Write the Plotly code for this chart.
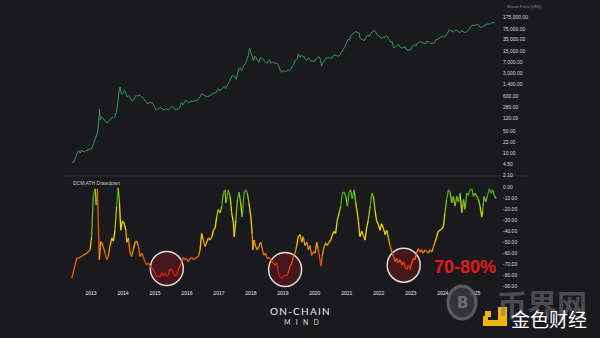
import numpy as np
import plotly.graph_objects as go

BG = "#1a1a1e"

# ---- Bitcoin price (USD), decimal year ----
price_years = [
    2012.40, 2012.46, 2012.50, 2012.54, 2012.58, 2012.62, 2012.66, 2012.70, 2012.75, 2012.79,
    2012.83, 2012.87, 2012.92, 2012.96, 2013.00, 2013.04, 2013.08, 2013.13, 2013.17, 2013.21,
    2013.24, 2013.27, 2013.29, 2013.33, 2013.38, 2013.42, 2013.46, 2013.50, 2013.54, 2013.58,
    2013.62, 2013.67, 2013.71, 2013.75, 2013.79, 2013.83, 2013.87, 2013.91, 2013.94, 2013.98,
    2014.04, 2014.08, 2014.13, 2014.17, 2014.21, 2014.25, 2014.29, 2014.33, 2014.38, 2014.42,
    2014.46, 2014.50, 2014.54, 2014.58, 2014.63, 2014.67, 2014.71, 2014.75, 2014.79, 2014.83,
    2014.88, 2014.92, 2014.96, 2015.00, 2015.04, 2015.08, 2015.13, 2015.17, 2015.21, 2015.25,
    2015.29, 2015.33, 2015.38, 2015.42, 2015.46, 2015.50, 2015.54, 2015.58, 2015.63, 2015.67,
    2015.71, 2015.75, 2015.79, 2015.83, 2015.87, 2015.92, 2015.96, 2016.00, 2016.04, 2016.08,
    2016.13, 2016.17, 2016.21, 2016.25, 2016.33, 2016.38, 2016.42, 2016.46, 2016.50, 2016.54,
    2016.58, 2016.63, 2016.67, 2016.71, 2016.75, 2016.79, 2016.83, 2016.88, 2016.92, 2016.96,
    2017.00, 2017.04, 2017.08, 2017.13, 2017.17, 2017.21, 2017.25, 2017.29, 2017.33, 2017.38,
    2017.42, 2017.46, 2017.50, 2017.54, 2017.58, 2017.62, 2017.67, 2017.71, 2017.75, 2017.79,
    2017.83, 2017.88, 2017.92, 2017.96, 2018.00, 2018.04, 2018.08, 2018.13, 2018.17, 2018.21,
    2018.25, 2018.29, 2018.33, 2018.38, 2018.42, 2018.46, 2018.50, 2018.54, 2018.58, 2018.63,
    2018.67, 2018.71, 2018.75, 2018.79, 2018.83, 2018.88, 2018.92, 2018.96, 2019.00, 2019.04,
    2019.08, 2019.13, 2019.17, 2019.21, 2019.25, 2019.29, 2019.33, 2019.38, 2019.42, 2019.46,
    2019.48, 2019.50, 2019.54, 2019.58, 2019.63, 2019.67, 2019.71, 2019.75, 2019.79, 2019.83,
    2019.88, 2019.92, 2019.96, 2020.00, 2020.04, 2020.08, 2020.13, 2020.17, 2020.21, 2020.25,
    2020.29, 2020.33, 2020.38, 2020.42, 2020.46, 2020.50, 2020.54, 2020.58, 2020.63, 2020.67,
    2020.71, 2020.75, 2020.79, 2020.83, 2020.88, 2020.92, 2020.96, 2021.00, 2021.04, 2021.08,
    2021.13, 2021.17, 2021.21, 2021.25, 2021.29, 2021.33, 2021.38, 2021.42, 2021.46, 2021.50,
    2021.54, 2021.58, 2021.63, 2021.67, 2021.71, 2021.75, 2021.79, 2021.83, 2021.87, 2021.92,
    2021.96, 2022.00, 2022.04, 2022.08, 2022.13, 2022.17, 2022.21, 2022.25, 2022.29, 2022.33,
    2022.38, 2022.42, 2022.46, 2022.50, 2022.54, 2022.58, 2022.63, 2022.67, 2022.71, 2022.75,
    2022.79, 2022.83, 2022.87, 2022.92, 2022.96, 2023.00, 2023.04, 2023.08, 2023.13, 2023.17,
    2023.21, 2023.25, 2023.29, 2023.33, 2023.38, 2023.42, 2023.46, 2023.50, 2023.54, 2023.58,
    2023.63, 2023.67, 2023.71, 2023.75, 2023.79, 2023.83, 2023.88, 2023.92, 2023.96, 2024.00,
    2024.04, 2024.08, 2024.13, 2024.17, 2024.21, 2024.25, 2024.29, 2024.33, 2024.38, 2024.42,
    2024.46, 2024.50, 2024.54, 2024.58, 2024.63, 2024.67, 2024.71, 2024.75, 2024.79, 2024.83,
    2024.88, 2024.92, 2024.96, 2025.00, 2025.04, 2025.08, 2025.13, 2025.17, 2025.21, 2025.25,
    2025.29, 2025.33, 2025.38, 2025.42, 2025.46, 2025.50, 2025.54, 2025.58, 2025.63,
]
price_usd = [
    5.1, 5.3, 6.6, 8.9, 10.9, 12.0, 10.2, 12.3, 11.8, 11.0,
    11.7, 12.4, 13.4, 13.5, 13.5, 15.5, 20, 27, 33, 47,
    93, 230, 110, 135, 120, 110, 100, 88, 95, 105,
    118, 135, 127, 140, 190, 320, 750, 1150, 750, 680,
    900, 800, 560, 620, 560, 460, 440, 450, 580, 640,
    600, 640, 620, 580, 500, 480, 410, 380, 340, 390,
    370, 380, 320, 290, 220, 230, 260, 270, 250, 240,
    225, 240, 230, 225, 245, 265, 290, 270, 225, 230,
    240, 245, 290, 380, 320, 400, 440, 430, 380, 390,
    420, 410, 420, 430, 450, 530, 580, 720, 650, 660,
    590, 575, 600, 610, 640, 710, 740, 750, 790, 960,
    1000, 870, 1000, 1080, 1250, 1040, 1200, 1350, 1700, 2200,
    2700, 2500, 2450, 2000, 2800, 4200, 4600, 3700, 4400, 5700,
    6100, 8000, 11000, 19000, 14000, 11500, 7500, 10500, 9000, 8000,
    6900, 9200, 9500, 8300, 7400, 6500, 6300, 7300, 8200, 6300,
    7000, 6500, 6600, 6400, 6300, 4300, 3800, 3300, 3800, 3600,
    3500, 3700, 3900, 4000, 4100, 5200, 5600, 7800, 8200, 9000,
    12500, 11000, 9800, 11500, 10300, 10200, 8300, 8000, 9300, 9000,
    7200, 7500, 7200, 7300, 8700, 9400, 10300, 8700, 5100, 6600,
    7100, 8800, 9500, 9700, 9200, 9100, 9200, 11100, 11700, 11500,
    10500, 10700, 11500, 13500, 16000, 19000, 23000, 29000, 36000, 33000,
    47000, 50000, 55000, 59000, 63000, 55000, 57000, 37000, 36000, 34000,
    32000, 40000, 46000, 48000, 43000, 55000, 61000, 64000, 66000, 57000,
    47000, 46000, 41000, 37000, 42000, 39000, 44000, 46000, 39000, 35000,
    29000, 30000, 20000, 20000, 21000, 23500, 24000, 20000, 19000, 19500,
    20000, 20500, 16500, 16800, 16500, 16600, 21000, 23000, 24000, 22000,
    27000, 28000, 30000, 29000, 27000, 26500, 25500, 30500, 30000, 29300,
    26000, 26000, 27000, 28000, 34500, 35000, 37500, 42000, 43000, 45000,
    41000, 43000, 52000, 62000, 70000, 67000, 63000, 60000, 67000, 69000,
    65000, 60000, 57000, 66000, 60000, 59000, 57000, 63000, 67000, 72000,
    90000, 97000, 101000, 94000, 102000, 104000, 97000, 84000, 84000, 85000,
    94000, 97000, 105000, 108000, 104000, 107000, 118000, 117000, 115000,
]

# ---- DCM ATH drawdown (%), decimal year ----
dd_years = [
    2012.40, 2012.55, 2012.66, 2012.75, 2012.87, 2012.97, 2013.02, 2013.07, 2013.13, 2013.16,
    2013.20, 2013.26, 2013.30, 2013.33, 2013.38, 2013.44, 2013.49, 2013.54, 2013.59, 2013.65,
    2013.70, 2013.75, 2013.80, 2013.85, 2013.89, 2013.93, 2013.98, 2014.03, 2014.09, 2014.12,
    2014.17, 2014.22, 2014.27, 2014.32, 2014.38, 2014.43, 2014.48, 2014.53, 2014.59, 2014.64,
    2014.69, 2014.74, 2014.79, 2014.85, 2014.90, 2014.95, 2015.00, 2015.06, 2015.11, 2015.16,
    2015.21, 2015.26, 2015.31, 2015.37, 2015.42, 2015.47, 2015.52, 2015.57, 2015.63, 2015.68,
    2015.73, 2015.78, 2015.84, 2015.89, 2015.94, 2015.99, 2016.04, 2016.10, 2016.15, 2016.20,
    2016.25, 2016.31, 2016.36, 2016.41, 2016.46, 2016.51, 2016.57, 2016.62, 2016.67, 2016.72,
    2016.78, 2016.83, 2016.88, 2016.93, 2016.98, 2017.04, 2017.09, 2017.14, 2017.19, 2017.22,
    2017.26, 2017.29, 2017.35, 2017.40, 2017.45, 2017.48, 2017.53, 2017.58, 2017.63, 2017.68,
    2017.73, 2017.79, 2017.84, 2017.89, 2017.94, 2018.00, 2018.04, 2018.06, 2018.10, 2018.15,
    2018.20, 2018.26, 2018.31, 2018.36, 2018.41, 2018.46, 2018.51, 2018.57, 2018.62, 2018.67,
    2018.76, 2018.81, 2018.86, 2018.91, 2018.97, 2019.02, 2019.07, 2019.12, 2019.17, 2019.22,
    2019.28, 2019.33, 2019.38, 2019.43, 2019.48, 2019.54, 2019.59, 2019.64, 2019.69, 2019.75,
    2019.80, 2019.85, 2019.90, 2019.95, 2020.01, 2020.06, 2020.11, 2020.16, 2020.19, 2020.23,
    2020.29, 2020.34, 2020.39, 2020.44, 2020.50, 2020.55, 2020.60, 2020.65, 2020.70, 2020.76,
    2020.81, 2020.86, 2020.91, 2020.97, 2021.02, 2021.07, 2021.12, 2021.17, 2021.23, 2021.28,
    2021.33, 2021.36, 2021.41, 2021.47, 2021.57, 2021.62, 2021.67, 2021.73, 2021.78, 2021.83,
    2021.88, 2021.93, 2021.99, 2022.04, 2022.09, 2022.14, 2022.20, 2022.25, 2022.30, 2022.35,
    2022.41, 2022.46, 2022.51, 2022.56, 2022.61, 2022.67, 2022.72, 2022.77, 2022.82, 2022.87,
    2022.93, 2022.98, 2023.03, 2023.08, 2023.13, 2023.19, 2023.24, 2023.29, 2023.34, 2023.39,
    2023.45, 2023.50, 2023.55, 2023.60, 2023.66, 2023.71, 2023.76, 2023.81, 2023.86, 2023.92,
    2023.97, 2024.02, 2024.07, 2024.12, 2024.18, 2024.23, 2024.28, 2024.33, 2024.39, 2024.44,
    2024.49, 2024.54, 2024.60, 2024.65, 2024.70, 2024.75, 2024.80, 2024.85, 2024.91, 2024.96,
    2025.01, 2025.11, 2025.17, 2025.22, 2025.25, 2025.29, 2025.35, 2025.40, 2025.46, 2025.51,
    2025.56, 2025.61, 2025.67,
]
dd_values = [
    -83, -65, -64, -62, -60, -57, -45, -8, -1, -16,
    -1, -66, -50, -50, -54, -60, -66, -63, -54, -46,
    -49, -39, -17, 0, -14, -39, -31, -32, -39, -50,
    -46, -60, -63, -57, -50, -49, -53, -63, -60, -64,
    -68, -71, -69, -72, -74, -75, -78, -82, -81, -82,
    -78, -81, -78, -81, -80, -75, -75, -78, -81, -80,
    -75, -72, -68, -64, -66, -65, -68, -65, -64, -66,
    -65, -64, -63, -57, -42, -48, -54, -50, -46, -48,
    -45, -39, -37, -27, -20, -23, -17, -5, -2, -14,
    -8, -2, -8, -23, -32, -45, -30, -11, -4, -14,
    -27, -4, -2, -5, -14, -27, -42, -57, -48, -54,
    -57, -53, -50, -57, -62, -60, -65, -64, -66, -68,
    -71, -69, -77, -82, -83, -81, -80, -81, -78, -72,
    -69, -63, -60, -54, -45, -43, -50, -45, -53, -50,
    -57, -53, -62, -59, -60, -50, -57, -66, -72, -63,
    -54, -51, -53, -50, -48, -43, -40, -42, -30, -23,
    -17, -5, -4, -8, -17, -4, -2, -10, -2, -14,
    -23, -30, -45, -40, -48, -37, -30, -17, -5, -8,
    -20, -30, -34, -39, -33, -37, -43, -39, -46, -53,
    -59, -63, -68, -65, -69, -66, -71, -68, -72, -75,
    -71, -75, -69, -65, -66, -59, -56, -59, -57, -60,
    -57, -59, -60, -57, -59, -54, -50, -45, -40, -39,
    -37, -36, -23, -11, -2, -4, -14, -8, -17, -8,
    -13, -5, -23, -11, -20, -5, -7, -2, -1, -8,
    -5, -10, -17, -27, -22, -8, -13, -7, -1, -5,
    -2, -7, -10,
]

# ---- axes ----
price_ticks = [2.1, 4.5, 10, 22, 50, 120, 280, 600, 1400, 3000, 7000, 15000, 35000, 75000, 175000]
price_tick_text = [f"{v:,.2f}" for v in price_ticks]
dd_ticks = [0, -10, -20, -30, -40, -50, -60, -70, -80, -90]
dd_tick_text = [f"{v:.2f}" for v in dd_ticks]
year_ticks = list(range(2013, 2026))
year_text = [str(y) for y in year_ticks]

# highlighted capitulation zones (centre year, centre drawdown)
zone_years = [2015.37, 2019.07, 2022.78]
zone_values = [-74, -75, -71]

# drawdown colour ramp: red (deep) -> orange -> yellow -> green (at ATH)
ramp_v = [-85, -80, -70, -60, -50, -40, -25, -12, 0]
ramp_r = [215, 222, 234, 242, 244, 240, 212, 130, 45]
ramp_g = [18, 22, 72, 118, 168, 224, 226, 192, 162]
ramp_b = [18, 18, 10, 0, 0, 0, 0, 22, 48]


def ramp_color(v):
    r = np.interp(v, ramp_v, ramp_r)
    g = np.interp(v, ramp_v, ramp_g)
    b = np.interp(v, ramp_v, ramp_b)
    return f"rgb({int(r)},{int(g)},{int(b)})"


fig = go.Figure()

fig.add_trace(go.Scatter(
    x=price_years, y=price_usd, mode="lines", yaxis="y", xaxis="x",
    line=dict(color="#2f9a5a", width=1.0), hoverinfo="skip",
))

# Colour each segment by the value it ends on; group runs into binned traces
BIN = 2.0
runs = {}
prev_bin = None
for i in range(1, len(dd_years)):
    b = round(dd_values[i] / BIN) * BIN
    if b == prev_bin:
        runs[b][-1][0].append(dd_years[i])
        runs[b][-1][1].append(dd_values[i])
    else:
        runs.setdefault(b, []).append(([dd_years[i - 1], dd_years[i]], [dd_values[i - 1], dd_values[i]]))
    prev_bin = b

for b, segs in runs.items():
    xs, ys = [], []
    for sx, sy in segs:
        xs += sx + [None]
        ys += sy + [None]
    fig.add_trace(go.Scatter(
        x=xs, y=ys, mode="lines", xaxis="x", yaxis="y2",
        line=dict(color=ramp_color(b), width=1.3), hoverinfo="skip",
        connectgaps=False,
    ))

# pixel helpers for decorations (plot area: x 60..502, y 10..289)
def px(p):
    return (p - 60) / 442.0


def py(p):
    return (289 - p) / 279.0


shapes = []
for zx, zv in zip(zone_years, zone_values):
    shapes.append(dict(
        type="circle", xref="x", yref="y2", xsizemode="pixel", ysizemode="pixel",
        xanchor=zx, yanchor=zv, x0=-16.5, x1=16.5, y0=-17, y1=17,
        fillcolor="rgba(105,22,28,0.55)", line=dict(color="rgba(235,235,235,0.92)", width=1.5),
        layer="below",
    ))

# panel separator
shapes.append(dict(type="line", xref="paper", yref="paper", x0=px(63), x1=px(528),
                   y0=py(176), y1=py(176), line=dict(color="rgba(255,255,255,0.10)", width=1)))

# footer logos
shapes.append(dict(type="circle", xref="paper", yref="paper", x0=px(448), x1=px(476),
                   y0=py(319), y1=py(286), fillcolor="rgba(62,62,66,0.75)",
                   line=dict(color="rgba(105,105,108,0.8)", width=3)))
yellow = "#f2b30f"
for (a, b_, c, d) in [(485, 491, 311, 317), (498, 507, 307, 326), (483, 507, 320, 326), (483, 488, 316, 326)]:
    shapes.append(dict(type="rect", xref="paper", yref="paper", x0=px(a), x1=px(b_),
                       y0=py(d), y1=py(c), fillcolor=yellow, line=dict(width=0)))

annotations = [
    dict(text="DCM ATH Drawdown", xref="paper", yref="paper", x=px(71), y=py(182.7),
         xanchor="left", yanchor="middle", showarrow=False,
         font=dict(size=5, color="#c8c8c8", family="Liberation Sans")),
    dict(text="Bitcoin Price (USD)", xref="paper", yref="paper", x=px(505), y=py(6),
         xanchor="left", yanchor="middle", showarrow=False,
         font=dict(size=4, color="#8a8a8a", family="Liberation Sans")),
    dict(text="<b>70-80%</b>", xref="x", yref="y2", x=2024.71, y=-72.4,
         xanchor="center", yanchor="middle", showarrow=False,
         font=dict(size=18, color="#e3191c", family="Liberation Sans")),
    dict(text="O\u2009N\u2009-\u2009C\u2009H\u2009A\u2009I\u2009N", xref="paper", yref="paper",
         x=px(300), y=py(311.3), xanchor="center", yanchor="middle", showarrow=False,
         font=dict(size=10, color="#ececec", family="Lato")),
    dict(text="M\u2003I\u2003N\u2003D", xref="paper", yref="paper",
         x=px(301), y=py(322), xanchor="center", yanchor="middle", showarrow=False,
         font=dict(size=7, color="#d8d8d8", family="Lato")),
    dict(text="<b>B</b>", xref="paper", yref="paper", x=px(462), y=py(302.5),
         xanchor="center", yanchor="middle", showarrow=False,
         font=dict(size=15, color="rgba(120,120,124,0.9)", family="DejaVu Sans")),
    dict(text="<b>币界网</b>", xref="paper", yref="paper", x=px(542), y=py(302.5),
         xanchor="center", yanchor="middle", showarrow=False,
         font=dict(size=30, color="rgba(120,120,124,0.55)", family="Noto Sans CJK SC")),
    dict(text="金色财经", xref="paper", yref="paper", x=px(548.5), y=py(318),
         xanchor="center", yanchor="middle", showarrow=False,
         font=dict(size=19, color="#ffffff", family="Noto Sans CJK SC")),
]

axis_font = dict(size=5, color="#d9d9d9", family="Liberation Sans")

fig.update_layout(
    width=600, height=338,
    margin=dict(l=60, r=98, t=10, b=49),
    paper_bgcolor=BG, plot_bgcolor=BG,
    showlegend=False,
    xaxis=dict(
        anchor="y2", range=[2012.03, 2025.854], tickvals=year_ticks, ticktext=year_text,
        tickfont=dict(size=5, color="#e6e6e6", family="Liberation Sans"),
        showgrid=False, zeroline=False, showline=False, ticks="",
    ),
    yaxis=dict(
        domain=[0.405, 1.0], type="log", range=[0.291, 5.462], side="right", anchor="x",
        tickvals=price_ticks, ticktext=price_tick_text, tickfont=axis_font,
        showgrid=False, zeroline=False, showline=False, ticks="",
    ),
    yaxis2=dict(
        domain=[0.0, 0.405], range=[-92.9, 10.73], side="right", anchor="x",
        tickvals=dd_ticks, ticktext=dd_tick_text, tickfont=axis_font,
        showgrid=False, zeroline=False, showline=False, ticks="",
    ),
    shapes=shapes,
    annotations=annotations,
)

fig.write_html("out.html")
